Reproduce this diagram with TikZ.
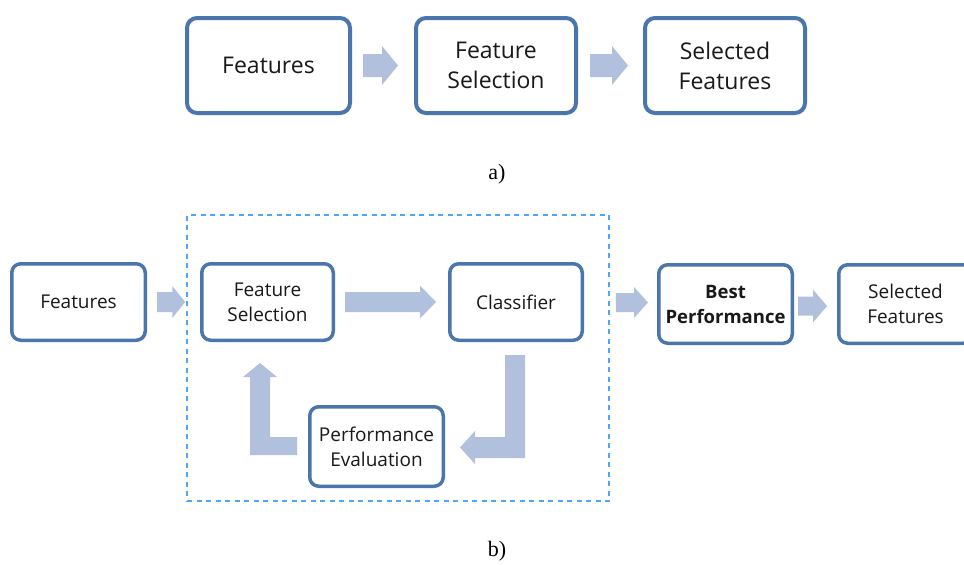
\documentclass[tikz,border=0pt]{standalone}
\usepackage{fontspec}
\usetikzlibrary{calc}
\newfontfamily\boxfont{Open Sans}
\newfontfamily\capfont{Liberation Serif}

\definecolor{boxblue}{RGB}{74,117,173}
\definecolor{arrowfill}{RGB}{177,193,221}
\definecolor{dashblue}{RGB}{80,166,245}
\definecolor{ink}{RGB}{25,25,25}

% block arrow from point #1 to tip #2; #3 shaft width, #4 head width, #5 head length
\newcommand\blockarrow[5]{%
  \fill[arrowfill] let \p1=(#1), \p2=(#2) in
    (\x1,\y1+#3/2) -- (\x2-#5,\y1+#3/2) -- (\x2-#5,\y1+#4/2) -- (\x2,\y1)
    -- (\x2-#5,\y1-#4/2) -- (\x2-#5,\y1-#3/2) -- (\x1,\y1-#3/2) -- cycle;}

\begin{document}
\begin{tikzpicture}[x=1pt,y=-1pt,
  bigbox/.style={draw=boxblue, line width=4pt, rounded corners=10pt, fill=white,
    align=center, text=ink, inner sep=0pt, minimum height=95pt,
    font=\boxfont\fontsize{23}{30}\selectfont},
  smallbox/.style={draw=boxblue, line width=3.5pt, rounded corners=9pt, fill=white,
    align=center, text=ink, inner sep=0pt,
    font=\boxfont\fontsize{19}{25}\selectfont},
  loopbox/.style={draw=dashblue, line width=1.5pt, dash pattern=on 5pt off 4.5pt, inner sep=0pt},
  caption/.style={font=\capfont\fontsize{22}{26}\selectfont, text=black, inner sep=0pt}]
\useasboundingbox (0,0) rectangle (964,565);
\clip (0,0) rectangle (964,565);

% ---- a) plain feature selection ----
\node[bigbox, minimum width=163pt] (a1) at (268.5,65.5) {Features};
\node[bigbox, minimum width=160pt] (a2) at (496,65.5) {Feature\\Selection};
\node[bigbox, minimum width=160pt] (a3) at (725,65.5) {Selected\\Features};
\blockarrow{$(a1.east)+(11,0)$}{$(a2.west)+(-16,0)$}{23pt}{39pt}{16pt}
\blockarrow{$(a2.east)+(12,0)$}{$(a3.west)+(-15,0)$}{23pt}{39pt}{16pt}
\node[caption] (capa) at (497,174) {a)};

% ---- b) wrapper feature selection ----
\node[loopbox, minimum width=422pt, minimum height=286pt] (loop) at (398,358) {};
\node[smallbox, minimum width=133.5pt, minimum height=76.5pt] (b1) at (78.5,302) {Features};
\node[smallbox, minimum width=131.5pt, minimum height=76.5pt] (b2) at (267.5,302) {Feature\\Selection};
\node[smallbox, minimum width=132.5pt, minimum height=76.5pt] (b3) at (516,302) {Classifier};
\node[smallbox, minimum width=133.5pt, minimum height=79.5pt] (pe) at (376.5,446.5) {Performance\\Evaluation};
\node[smallbox, minimum width=133.5pt, minimum height=78.5pt,
      font=\boxfont\bfseries\fontsize{18.5}{25}\selectfont] (b4) at (725.5,304) {Best\\Performance};
\node[smallbox, minimum width=133.5pt, minimum height=78.5pt] (b5) at (905.5,304) {Selected\\Features};

\blockarrow{$(b1.east)+(10,0)$}{$(loop.west)+(-1,0)$}{20pt}{32pt}{13pt}
\blockarrow{$(b2.east)+(10,0)$}{$(b3.west)+(-12,0)$}{20pt}{33pt}{16pt}
\blockarrow{$(loop.east |- b4.west)+(6,-1.5)$}{$(b4.west)+(-9,0)$}{19pt}{31pt}{14pt}
\blockarrow{$(b4.east)+(4,2)$}{$(b5.west)+(-10,0)$}{19pt}{33pt}{14pt}

% classifier -> performance evaluation (down, then left)
\fill[arrowfill] (505,355) -- (525,355) -- (525,458) -- (475,458) -- (475,464)
  -- (460,447.5) -- (475,431) -- (475,437) -- (505,437) -- cycle;
% performance evaluation -> feature selection (left, then up)
\fill[arrowfill] (297,437) -- (297,455) -- (250,455) -- (250,377) -- (243,377)
  -- (260,363) -- (277,377) -- (270,377) -- (270,437) -- cycle;

\node[caption] (capb) at (497,551) {b)};
\end{tikzpicture}
\end{document}
